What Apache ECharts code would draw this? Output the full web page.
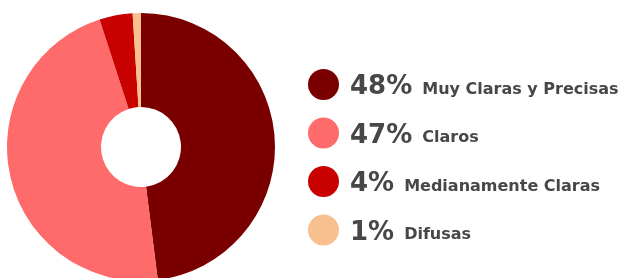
<!DOCTYPE html>
<html>
<head>
<meta charset="utf-8">
<style>
  html, body { margin: 0; padding: 0; background: #fff; }
  #chart { width: 631px; height: 278px; }
</style>
<script src="https://cdn.jsdelivr.net/npm/echarts@6/dist/echarts.min.js"></script>
</head>
<body>
<div id="chart"></div>
<script>
// categories and shares (percent)
const categories = ["Muy Claras y Precisas", "Claros", "Medianamente Claras", "Difusas"];
const values = [48, 47, 4, 1];
const palette = ["#7a0000", "#ff6b6b", "#c90000", "#f8c08f"];

const chart = echarts.init(document.getElementById("chart"));

const pieData = categories.map((name, i) => ({
  name,
  value: values[i],
  itemStyle: { color: palette[i] }
}));

chart.setOption({
  backgroundColor: "#ffffff",
  animation: false,
  legend: {
    orient: "vertical",
    left: 303,
    top: 64,
    itemWidth: 31,
    itemHeight: 31,
    itemGap: 17,
    icon: "circle",
    data: categories,
    formatter(name) {
      const i = categories.indexOf(name);
      return "{p|" + values[i] + "%}{n|" + name + "}";
    },
    textStyle: {
      rich: {
        p: {
          fontFamily: "DejaVu Sans",
          fontWeight: "bold",
          fontSize: 26,
          color: "#474747",
          lineHeight: 32,
          verticalAlign: "bottom",
          padding: [0, 10, 0, 6]
        },
        n: {
          fontFamily: "DejaVu Sans",
          fontWeight: "bold",
          fontSize: 16,
          color: "#474747",
          lineHeight: 32,
          verticalAlign: "bottom",
          padding: [0, 0, 3, 0]
        }
      }
    }
  },
  series: [
    {
      type: "pie",
      center: [141, 147],
      radius: [40, 134],
      startAngle: 90,
      clockwise: true,
      label: { show: false },
      labelLine: { show: false },
      emphasis: { disabled: true },
      data: pieData
    }
  ]
});
</script>
</body>
</html>
